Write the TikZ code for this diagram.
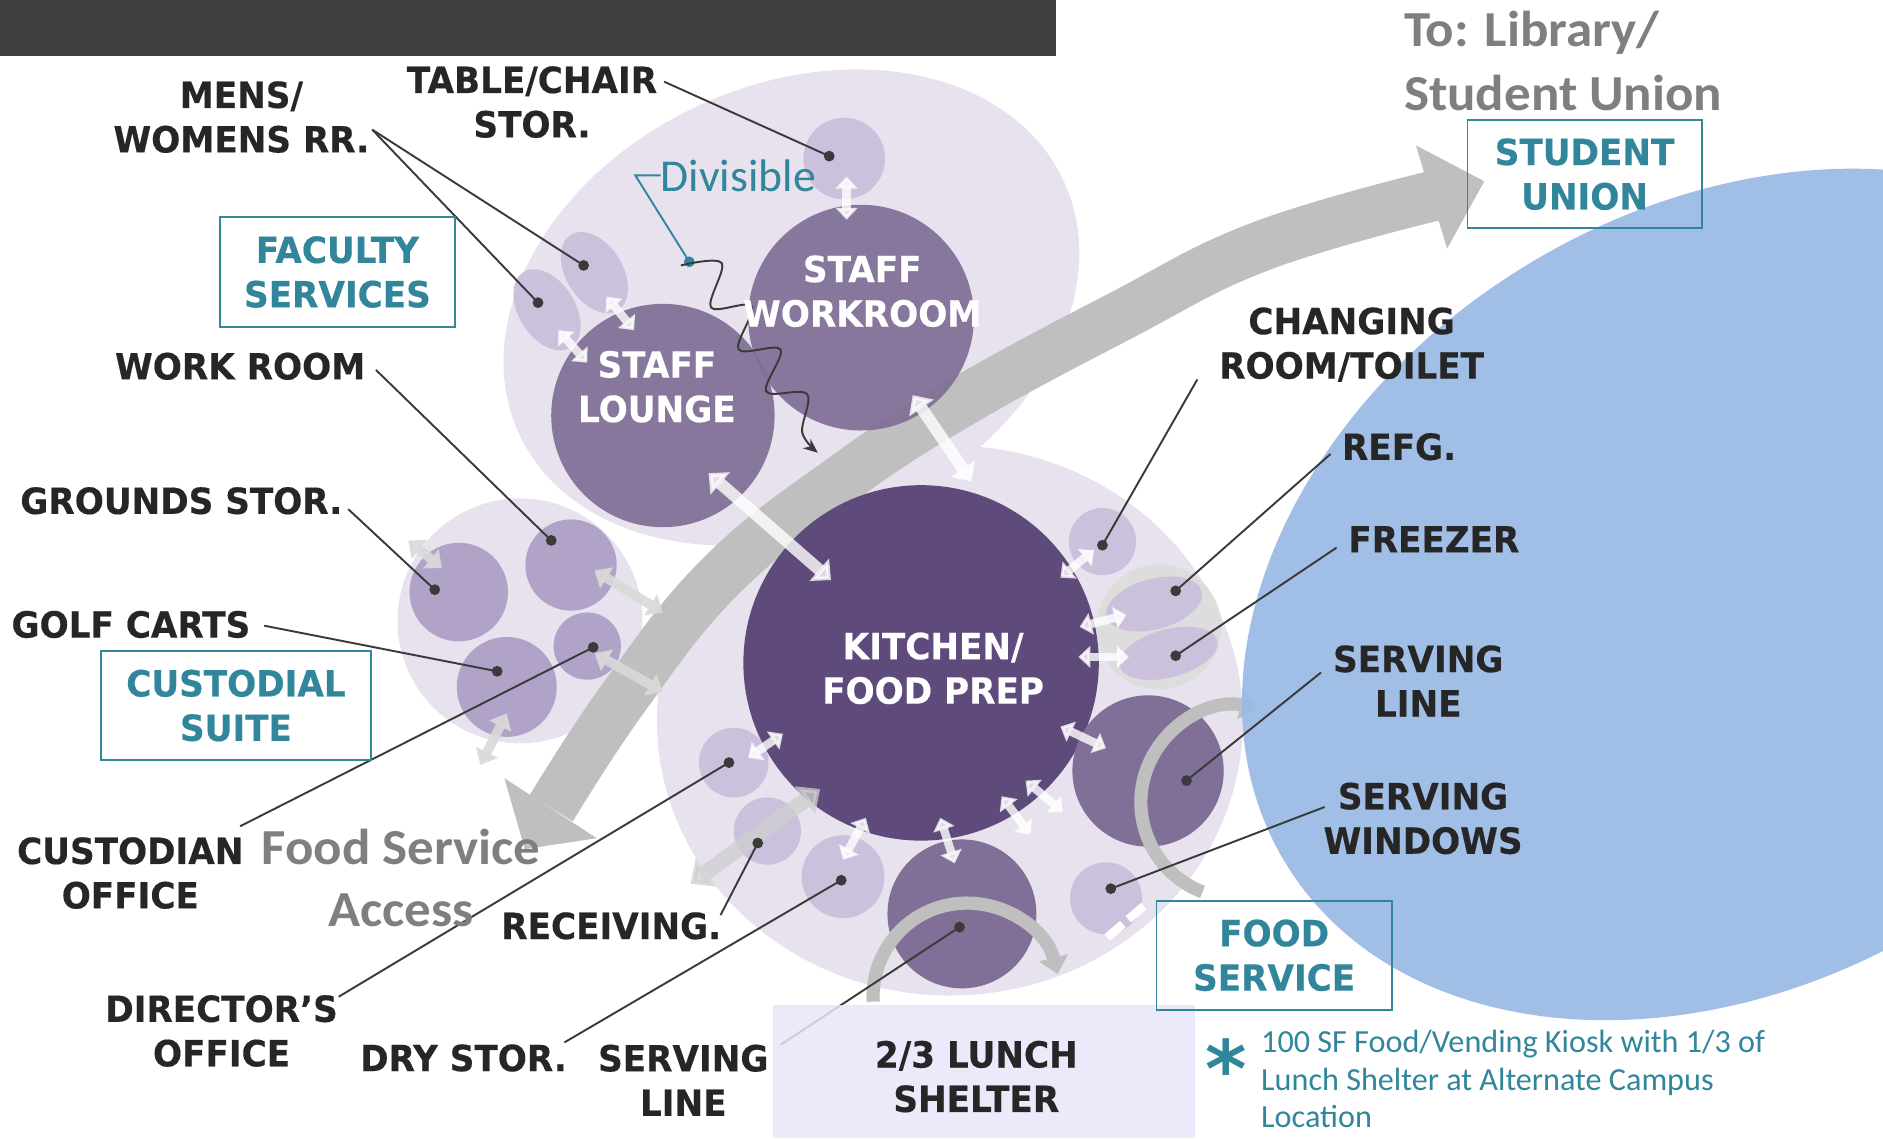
\documentclass[tikz,border=0pt]{standalone}
\usepackage{fontspec}
\usetikzlibrary{arrows.meta}
\newfontfamily\labfont[FakeStretch=0.95, BoldFeatures={FakeBold=0.4}]{DejaVu Sans}
\newfontfamily\calfont{Carlito}
\newfontfamily\grfont[FakeStretch=1.05]{Carlito}
\newfontfamily\astfont{DejaVu Sans}
\definecolor{barc}{HTML}{404040}
\definecolor{blobc}{HTML}{E7E2EE}
\definecolor{litec}{HTML}{CBC1DC}
\definecolor{custc}{HTML}{B1A2C8}
\definecolor{midc}{HTML}{806F96}
\definecolor{darkc}{HTML}{5F4A7C}
\definecolor{bandc}{HTML}{BFBFBF}
\definecolor{skyc}{HTML}{99B9E4}
\definecolor{tealc}{HTML}{31869B}
\definecolor{inkc}{HTML}{262626}
\definecolor{leadc}{HTML}{3A3A3A}
\definecolor{graytxt}{HTML}{7F7F7F}
\definecolor{shelterc}{HTML}{E6E6FA}
\definecolor{garc}{HTML}{D9D9D9}
\definecolor{ringc}{HTML}{DDDDDD}
\definecolor{accc}{HTML}{CFCFCF}
\tikzset{
  lbl/.style={font={\labfont\bfseries\fontsize{30pt}{37pt}\selectfont}, text=inkc, align=center, inner sep=0pt},
  wlbl/.style={lbl, text=white},
  tlbl/.style={lbl, text=tealc},
  tbox/.style={draw=tealc, line width=1.5pt},
  leader/.style={draw=leadc, line width=1.6pt},
  dotc/.style={fill=leadc},
  warr/.style={draw=white, opacity=0.8, line width=10pt, arrows={Triangle[width=24pt,length=13pt]-Triangle[width=24pt,length=13pt]}},
  wsarr/.style={draw=white, opacity=0.8, line width=7pt, arrows={Triangle[width=18pt,length=10pt]-Triangle[width=18pt,length=10pt]}},
  garr/.style={draw=garc, opacity=0.9, line width=8pt, arrows={Triangle[width=20pt,length=12pt]-Triangle[width=20pt,length=12pt]}},
  arcst/.style={draw=bandc, line width=11pt, arrows={-Triangle[width=24pt,length=14pt]}},
}
\begin{document}
\begin{tikzpicture}[x=1pt,y=-1pt]
\useasboundingbox (0,0) rectangle (1568,948);
\clip (0,0) rectangle (1568,948);

% top bar
\fill[barc] (0,0) rectangle (879,47);

% background blobs
\fill[blobc, rotate around={25:(659,256)}] (659,256) ellipse [x radius=250, y radius=185];
\fill[blobc] (791,600) ellipse [x radius=244, y radius=229];
\fill[blobc] (433,517) circle [radius=102];
\fill[ringc] (965,522) circle [radius=52];

% big gray two-way arrow
\draw[bandc, line width=42pt] plot[smooth, tension=0.7] coordinates {(459,673) (520,580) (600,480) (700,400) (800,335) (933,263) (1050,205) (1194,163)};
\fill[bandc] (420,648) -- (497,698) -- (437,707) -- cycle;
\fill[bandc] (1179,121) -- (1205,207) -- (1236,151) -- cycle;

% rooms
\fill[litec] (703,132) circle [radius=34];
\fill[midc, opacity=0.93] (717,264.5) circle [radius=94];
\fill[midc, opacity=0.93] (552,346) circle [radius=93];
\fill[litec, rotate around={-58:(495,227)}] (495,227) ellipse [x radius=37, y radius=23.5];
\fill[litec, rotate around={-58:(455.5,258)}] (455.5,258) ellipse [x radius=37, y radius=23.5];
\fill[darkc] (767,552) circle [radius=148];
\fill[litec] (918,451) circle [radius=28];
\fill[litec, rotate around={15:(961,503)}] (961,503) ellipse [x radius=41, y radius=21];
\fill[litec, rotate around={15:(973,544)}] (973,544) ellipse [x radius=42, y radius=20];
\fill[midc] (956,642) circle [radius=63];
\fill[litec] (921,748) circle [radius=30];
\fill[midc] (801,761) circle [radius=62];
\fill[litec] (702,730) circle [radius=34.5];
\fill[litec] (639,692) circle [radius=28];
\fill[litec] (611,635) circle [radius=29];
\fill[custc] (382,493) circle [radius=41];
\fill[custc] (475.5,470.5) circle [radius=38];
\fill[custc] (422,572) circle [radius=41.6];
\fill[custc] (489,538) circle [radius=28];

% serving arcs
\draw[arcst] (1030,668) ++(111:80) arc[start angle=111, end angle=282, radius=80];
\draw[arcst] (805,830) ++(177:78) arc[start angle=177, end angle=346, radius=78];

% student union area
\fill[skyc, opacity=0.92, rotate around={31:(1440,495)}] (1440,495) ellipse [x radius=432, y radius=322];

% serving windows marks
\fill[white, rotate around={40:(928.5,775)}] (920,771.5) rectangle (937,778.5);
\fill[white, rotate around={40:(946,760)}] (937.5,756.5) rectangle (954.5,763.5);

% white two-way arrows
\draw[wsarr] (705,147) -- (705,183);
\draw[wsarr] (505,247) -- (528,275);
\draw[wsarr] (465,275) -- (489,302);
\draw[warr] (590,394) -- (692,483);
\draw[warr] (760,329) -- (809,401);
\draw[wsarr] (911,458) -- (883,481);
\draw[wsarr] (938,512) -- (899,522);
\draw[wsarr] (940,547) -- (898,547);
\draw[wsarr] (883,605) -- (921,623);
\draw[wsarr] (854,650) -- (885,676);
\draw[wsarr] (834,663) -- (858,695);
\draw[wsarr] (783,681) -- (795,719);
\draw[wsarr] (721,681) -- (702,716);
\draw[wsarr] (652,611) -- (623,631);

% custodial arrows
\draw[garr] (340,450) -- (368,473);
\draw[garr] (495,475) -- (552,510);
\draw[garr] (495,544) -- (552,576);
\draw[garr] (422,594) -- (400,637);
% food service access arrow
\draw[draw=accc, opacity=0.75, line width=13pt, arrows={Triangle[width=28pt,length=16pt]-Triangle[width=28pt,length=16pt]}] (683,657) -- (575,736);

% dots (ends of leaders)
\coordinate (dTable) at (690.5,130);
\coordinate (dRR1) at (486,221);
\coordinate (dRR2) at (448,252);
\coordinate (dWork) at (459,450);
\coordinate (dGround) at (362,491);
\coordinate (dGolf) at (414,559);
\coordinate (dCust) at (494,539);
\coordinate (dRecv) at (631,702);
\coordinate (dDir) at (607,635);
\coordinate (dDry) at (700.5,733);
\coordinate (dServB) at (799,772);
\coordinate (dChg) at (918,454);
\coordinate (dRefg) at (979,492);
\coordinate (dFrz) at (979,546);
\coordinate (dServR) at (988,650);
\coordinate (dWin) at (925,740);
% label ends
\coordinate (lTable) at (553,68);
\coordinate (lMens) at (310,108);
\coordinate (lWork) at (313,308);
\coordinate (lGround) at (290,424);
\coordinate (lGolf) at (220,521);
\coordinate (lCust) at (200,688);
\coordinate (lRecv) at (600,762);
\coordinate (lDir) at (282,830);
\coordinate (lDry) at (470,868);
\coordinate (lServB) at (650,870);
\coordinate (lChg) at (997,316);
\coordinate (lRefg) at (1108,378);
\coordinate (lFrz) at (1113,456);
\coordinate (lServR) at (1100,560);
\coordinate (lWin) at (1103,672);

\draw[leader] (lTable) -- (dTable);
\draw[leader] (lMens) -- (dRR1);
\draw[leader] (lMens) -- (dRR2);
\draw[leader] (lWork) -- (dWork);
\draw[leader] (lGround) -- (dGround);
\draw[leader] (lGolf) -- (dGolf);
\draw[leader] (lCust) -- (dCust);
\draw[leader] (lRecv) -- (dRecv);
\draw[leader] (lDir) -- (dDir);
\draw[leader] (lDry) -- (dDry);
\draw[leader] (lServB) -- (dServB);
\draw[leader] (lChg) -- (dChg);
\draw[leader] (lRefg) -- (dRefg);
\draw[leader] (lFrz) -- (dFrz);
\draw[leader] (lServR) -- (dServR);
\draw[leader] (lWin) -- (dWin);
\foreach \d in {dTable,dRR1,dRR2,dWork,dGround,dGolf,dCust,dRecv,dDir,dDry,dServB,dChg,dRefg,dFrz,dServR,dWin}
  \fill[dotc] (\d) circle [radius=4.5];

% lunch shelter
\fill[shelterc, opacity=0.85] (644,837) rectangle (995,948);
\node[lbl] (lunch) at (813,896.5) {2/3 LUNCH\\SHELTER};

% Divisible
\node[anchor=west, inner sep=0pt, font={\calfont\fontsize{38pt}{44pt}\selectfont}, text=tealc] (div) at (550,146) {Divisible};
\coordinate (divDot) at (574,218);
\coordinate (divCorner) at (529,146);
\draw[tealc, line width=1.6pt] (div.west) -- (divCorner) -- (divDot);
\fill[tealc] (divDot) circle [radius=4.5];
\draw[leadc, line width=1.6pt, -{Stealth[length=12pt,width=10pt]}] plot[smooth, tension=0.55] coordinates {(567,221) (601,219) (592,256) (626,255) (615,291) (650,291) (638,326) (672,328) (668,360) (681,377)};

% labels
\node[lbl] (tablechair) at (443,85) {TABLE/CHAIR\\STOR.};
\node[lbl] (mens) at (201,97.5) {MENS/\\WOMENS RR.};
\node[tlbl, tbox, minimum width=196pt, minimum height=91pt] (faculty) at (281,226.5) {FACULTY\\SERVICES};
\node[lbl] (workroom) at (200,305) {WORK ROOM};
\node[lbl] (grounds) at (151,417) {GROUNDS STOR.};
\node[lbl] (golf) at (109,520) {GOLF CARTS};
\node[tlbl, tbox, minimum width=225pt, minimum height=91pt] (custodial) at (196.5,587.5) {CUSTODIAL\\SUITE};
\node[lbl] (custodian) at (108.5,727) {CUSTODIAN\\OFFICE};
\node[align=center, inner sep=0pt, font={\grfont\bfseries\fontsize{42pt}{52pt}\selectfont}, text=graytxt] (access) at (334,731) {Food Service\\Access};
\node[lbl] (receiving) at (509,771) {RECEIVING.};
\node[lbl] (director) at (184.5,858.5) {DIRECTOR’S\\OFFICE};
\node[lbl] (drystor) at (386,881) {DRY STOR.};
\node[lbl] (servingB) at (569,899.5) {SERVING\\LINE};
\node[tlbl, tbox, minimum width=196pt, minimum height=91pt] (foodservice) at (1061,795.5) {FOOD\\SERVICE};
\node[lbl] (changing) at (1125.5,287) {CHANGING\\ROOM/TOILET};
\node[lbl] (refg) at (1165,372) {REFG.};
\node[lbl] (freezer) at (1194,449) {FREEZER};
\node[lbl] (servingR) at (1181,567) {SERVING\\LINE};
\node[lbl] (windows) at (1185,681.5) {SERVING\\WINDOWS};
\node[tlbl, tbox, minimum width=195pt, minimum height=90pt] (studentunion) at (1319.5,145) {STUDENT\\UNION};
\node[anchor=west, align=left, inner sep=0pt, font={\grfont\bfseries\fontsize{42pt}{53pt}\selectfont}, text=graytxt] (tolib) at (1169,51) {To: Library/\\Student Union};
\node[wlbl] (workroomT) at (718,242.5) {STAFF\\WORKROOM};
\node[wlbl] (loungeT) at (547,322) {STAFF\\LOUNGE};
\node[wlbl] (kitchenT) at (777,556.5) {KITCHEN/\\FOOD PREP};

% footnote
\node[inner sep=0pt, font={\astfont\bfseries\fontsize{66pt}{66pt}\selectfont}, text=tealc] (ast) at (1021,889) {*};
\node[anchor=north west, align=left, inner sep=0pt, font={\calfont\fontsize{26.8pt}{31pt}\selectfont}, text=tealc] (note) at (1050,858) {100 SF Food/Vending Kiosk with 1/3 of\\Lunch Shelter at Alternate Campus\\Location};
\end{tikzpicture}
\end{document}
